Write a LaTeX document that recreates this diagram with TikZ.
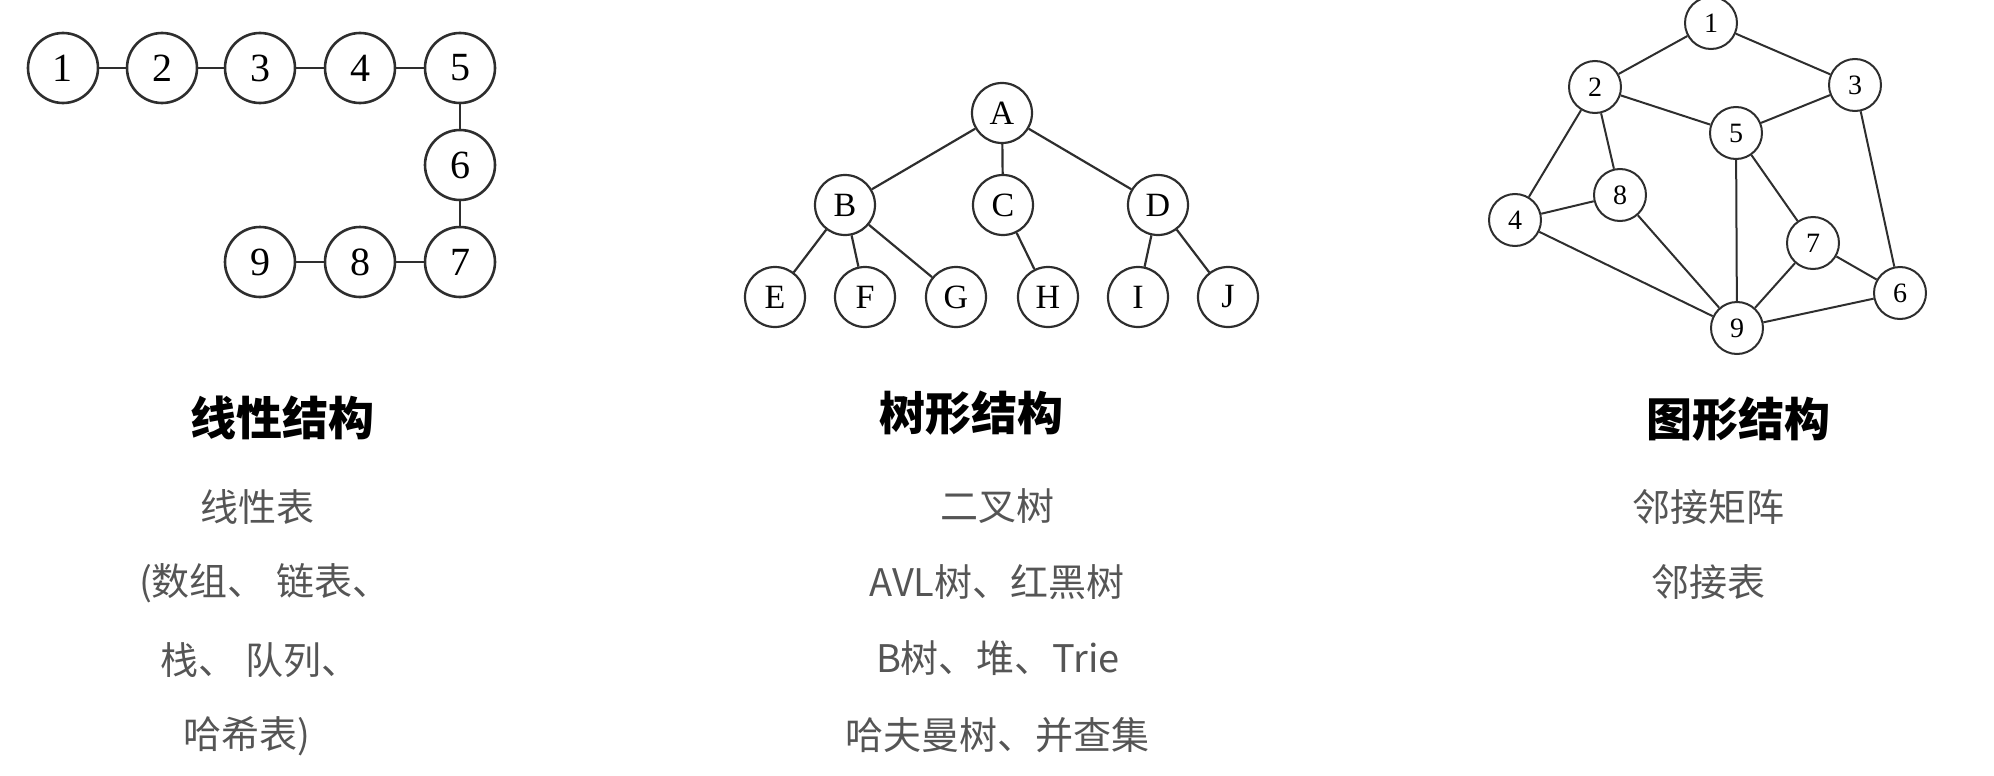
\documentclass[tikz,border=0pt]{standalone}
\usepackage{fontspec}
\setmainfont{Liberation Serif}
\newfontfamily\cjk{Noto Sans CJK SC}
\definecolor{edgecol}{HTML}{2E2E2E}
\definecolor{subcol}{HTML}{555555}
\begin{document}
\begin{tikzpicture}[x=0.5pt,y=-0.5pt,
  lin/.style={circle,draw=edgecol,line width=1.3pt,minimum size=35pt,inner sep=0pt,font=\fontsize{20}{20}\selectfont},
  tre/.style={circle,draw=edgecol,line width=1.1pt,minimum size=30pt,inner sep=0pt,font=\fontsize{17}{17}\selectfont},
  gra/.style={circle,draw=edgecol,line width=1pt,minimum size=26pt,inner sep=0pt,font=\fontsize{14}{14}\selectfont},
  lnk/.style={draw=edgecol,line width=1.1pt},
  ttl/.style={font=\cjk\bfseries\fontsize{23}{23}\selectfont,text=black,inner sep=0pt},
  sub/.style={font=\cjk\fontsize{19}{19}\selectfont,text=subcol,inner sep=0pt}]
\useasboundingbox (0,0) rectangle (1994,776);
% linear
\node[lin] (l1) at (63,68) {1};
\node[lin] (l2) at (162,68) {2};
\node[lin] (l3) at (260,68) {3};
\node[lin] (l4) at (360,68) {4};
\node[lin] (l5) at (460,68) {5};
\node[lin] (l6) at (460,165) {6};
\node[lin] (l7) at (460,262) {7};
\node[lin] (l8) at (360,262) {8};
\node[lin] (l9) at (260,262) {9};
\foreach \a/\b in {l1/l2,l2/l3,l3/l4,l4/l5,l5/l6,l6/l7,l7/l8,l8/l9}
  \draw[lnk,line width=1.3pt] (\a) -- (\b);
% tree
\node[tre] (A) at (1002,113) {A};
\node[tre] (B) at (845,205) {B};
\node[tre] (C) at (1003,205) {C};
\node[tre] (D) at (1158,205) {D};
\node[tre] (E) at (775,297) {E};
\node[tre] (F) at (865,297) {F};
\node[tre] (G) at (956,297) {G};
\node[tre] (H) at (1048,297) {H};
\node[tre] (I) at (1138,297) {I};
\node[tre] (J) at (1228,297) {J};
\foreach \a/\b in {A/B,A/C,A/D,B/E,B/F,B/G,C/H,D/I,D/J}
  \draw[lnk] (\a) -- (\b);
% graph
\node[gra] (g1) at (1711,23) {1};
\node[gra] (g2) at (1595,87) {2};
\node[gra] (g3) at (1855,85) {3};
\node[gra] (g5) at (1736,133) {5};
\node[gra] (g8) at (1620,195) {8};
\node[gra] (g4) at (1515,220) {4};
\node[gra] (g7) at (1813,243) {7};
\node[gra] (g6) at (1900,293) {6};
\node[gra] (g9) at (1737,328) {9};
\foreach \a/\b in {g1/g2,g1/g3,g2/g5,g3/g5,g2/g4,g2/g8,g4/g8,g4/g9,g8/g9,g5/g9,g5/g7,g3/g6,g7/g6,g7/g9,g9/g6}
  \draw[lnk,line width=1pt] (\a) -- (\b);
% texts
\node[ttl] (t1) at (282,418) {线性结构};
\node[sub] (s11) at (257,507) {线性表};
\node[sub] (s12) at (265,583) {(数组、\hspace{5.5pt}链表、};
\node[sub] (s13) at (260,660) {栈、\hspace{4.5pt}队列、};
\node[sub] (s14) at (247,736) {哈希表)};
\node[ttl] (t2) at (971,413) {树形结构};
\node[sub] (s21) at (997,506) {二叉树};
\node[sub] (s22) at (997,582) {AVL树、红黑树};
\node[sub] (s23) at (998,658) {B树、堆、Trie};
\node[sub] (s24) at (997,735) {哈夫曼树、并查集};
\node[ttl] (t3) at (1738,419) {图形结构};
\node[sub] (s31) at (1708,507) {邻接矩阵};
\node[sub] (s32) at (1708,582) {邻接表};
\end{tikzpicture}
\end{document}
